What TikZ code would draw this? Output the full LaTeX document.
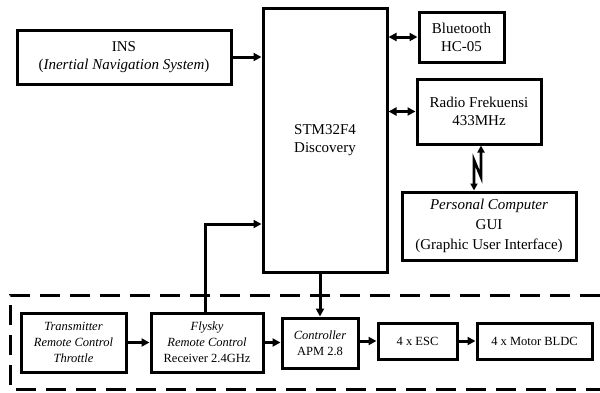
\documentclass[tikz,border=0pt]{standalone}
\usepackage{fontspec}
\setmainfont{Liberation Serif}
\usetikzlibrary{arrows.meta,positioning}

\begin{document}
\begin{tikzpicture}[x=1pt,y=-1pt,>={Triangle[length=8pt,width=8pt]},
  blok/.style = {draw, line width=3pt, align=center, inner sep=0pt, font=\fontsize{15}{18}\selectfont},
  kecil/.style = {blok, font=\fontsize{12.5}{16}\selectfont},
  panah/.style = {->, line width=3pt},
  duapanah/.style = {<->, line width=3pt},]
\useasboundingbox (0,0) rectangle (600,392);
\node (ins) at (124,57)[blok,minimum width=214pt,minimum height=54pt] {INS\\(\textit{Inertial Navigation System})};
\node (stm) at (325,140)[blok,minimum width=124pt,minimum height=264pt] {STM32F4\\Discovery};
\node (bt) at (461.5,37)[blok,minimum width=85pt,minimum height=50pt] {Bluetooth\\HC-05};
\node (rf) at (479,111.5)[blok,minimum width=124pt,minimum height=65pt] {Radio Frekuensi\\433MHz};
\node (pc) at (489,226)[blok,font=\fontsize{15}{20}\selectfont,minimum width=174pt,minimum height=68pt] {\textit{Personal Computer}\\GUI\\(Graphic User Interface)};
\node (tx) at (73.5,342.5)[kecil,minimum width=105pt,minimum height=59pt] {\textit{Transmitter}\\\textit{Remote Control}\\\textit{Throttle}};
\node (fly) at (207,342.5)[kecil,minimum width=112pt,minimum height=59pt] {\textit{Flysky}\\\textit{Remote Control}\\Receiver 2.4GHz};
\node (ctrl) at (320,343)[kecil,minimum width=76pt,minimum height=50pt] {\textit{Controller}\\APM 2.8};
\node (esc) at (417.5,341)[kecil,minimum width=79pt,minimum height=36pt] {4 x ESC};
\node (motor) at (534.5,341)[kecil,minimum width=115pt,minimum height=36pt] {4 x Motor BLDC};
\coordinate (naik) at (205,224);
\coordinate (z1) at (481,177);
\coordinate (z2) at (474,160);
% jalur data
\draw[panah] (ins.east)--(ins.east-|stm.west);
\draw[duapanah] (stm.east|-bt.west)--(bt.west);
\draw[duapanah] (stm.east|-rf.west)--(rf.west);
\draw[{Triangle[length=7pt,width=7pt]}-{Triangle[length=7pt,width=7pt]}, line width=2.6pt] (rf.south-|z1)--(z1)--(z2)--(pc.north-|z2);
\draw[panah] (tx.east)--(fly.west);
\draw[panah] (fly.north-|naik)--(naik)--(naik-|stm.west);
\draw[panah] (stm.south-|ctrl)--(ctrl.north);
\draw[panah] (fly.east)--(fly.east-|ctrl.west);
\draw[panah] (ctrl.east|-esc.west)--(esc.west);
\draw[panah] (esc.east)--(motor.west);
\draw[line width=3pt, dash pattern=on 20pt off 10pt] (600,295)-|(10,389)--(600,389);
\end{tikzpicture}
\end{document}
